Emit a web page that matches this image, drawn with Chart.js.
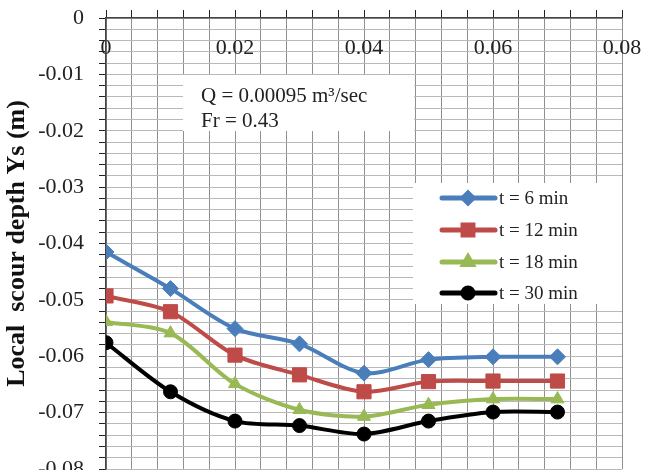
<!DOCTYPE html>
<html>
<head>
<meta charset="utf-8">
<script src="https://cdn.jsdelivr.net/npm/chart.js@4.4.1/dist/chart.umd.min.js"></script>
<style>
html,body{margin:0;padding:0;background:#fff;overflow:hidden}
#wrap{width:646px;height:482px;position:relative}
</style>
</head>
<body>
<div id="wrap"><canvas id="scourChart" width="646" height="482"></canvas></div>
<script>
/* Local scour depth chart */
const xVals=[0,0.01,0.02,0.03,0.04,0.05,0.06,0.07];
const t6 =[-0.0415,-0.0480,-0.0551,-0.0578,-0.0630,-0.0606,-0.0601,-0.0601];
const t12=[-0.0493,-0.0521,-0.0598,-0.0633,-0.0663,-0.0645,-0.0644,-0.0644];
const t18=[-0.0539,-0.0559,-0.0649,-0.0695,-0.0707,-0.0686,-0.0676,-0.0676];
const t30=[-0.0576,-0.0663,-0.0715,-0.0723,-0.0738,-0.0715,-0.0699,-0.0699];
const seriesNames=['t = 6 min','t = 12 min','t = 18 min','t = 30 min'];
const xTickLabels=[0,0.02,0.04,0.06,0.08];
const yTickLabels=[0,-0.01,-0.02,-0.03,-0.04,-0.05,-0.06,-0.07,-0.08];
const noteLines=['Q = 0.00095 m³/sec','Fr = 0.43'];

const serif='"Liberation Serif","Times New Roman",serif';
const styles=[
  {color:'#4A7EBB',point:'rectRot',r:8,lr:5},
  {color:'#BE4B48',point:'rect',r:10,lr:7},
  {color:'#98B954',point:'triangle',r:7.5,lr:5},
  {color:'#000000',point:'circle',r:7,lr:5}
];
const pts=arr=>arr.map((v,i)=>({x:xVals[i],y:v}));
const datasets=[t6,t12,t18,t30].map((arr,i)=>({
  label:seriesNames[i],data:pts(arr),
  borderColor:styles[i].color,backgroundColor:styles[i].color,
  borderWidth:4,tension:0.3,
  pointStyle:styles[i].point,pointRadius:styles[i].r,pointHoverRadius:styles[i].r,pointBorderWidth:1
}));

const near=(v,list)=>list.some(t=>Math.abs(t-v)<1e-7);
const fmt=v=>Math.abs(v)<1e-9?'0':(Math.round(v*100)/100).toFixed(2);

// white note box + legend box, drawn under the lines
const boxesPlugin={
  id:'boxes',
  beforeDatasetsDraw(chart){
    const ctx=chart.ctx;
    ctx.save();
    ctx.fillStyle='#fff';
    ctx.fillRect(183,75,231,56);
    ctx.fillStyle='#222';
    ctx.font='21px '+serif;
    ctx.textBaseline='alphabetic';
    ctx.fillText(noteLines[0],201,102);
    ctx.fillText(noteLines[1],201,127);
    // legend
    ctx.fillStyle='#fff';
    ctx.fillRect(413,183,209,121);
    const rows=[198,230,262,293];
    chart.data.datasets.forEach((ds,i)=>{
      const y=rows[i];
      ctx.strokeStyle=ds.borderColor;ctx.lineWidth=5;ctx.lineCap='round';
      ctx.beginPath();ctx.moveTo(442,y);ctx.lineTo(495,y);ctx.stroke();
      ctx.fillStyle=ds.borderColor;
      Chart.helpers.drawPoint(ctx,{pointStyle:styles[i].point,radius:styles[i].lr,rotation:0,borderWidth:1},468,y);
      ctx.fillStyle='#222';ctx.font='19px '+serif;ctx.textBaseline='middle';
      ctx.fillText(ds.label,499,y+1);
    });
    ctx.restore();
  }
};

new Chart(document.getElementById('scourChart'),{
  type:'line',
  data:{datasets},
  plugins:[boxesPlugin],
  options:{
    responsive:false,animation:false,
    layout:{padding:{left:0,top:0,right:24,bottom:13}},
    plugins:{legend:{display:false},tooltip:{enabled:false}},
    scales:{
      x:{
        type:'linear',position:'top',min:0,max:0.08,
        afterFit:s=>{s.height=18;s.paddingLeft=0;s.paddingRight=0;s.paddingTop=0;s.paddingBottom=0;},
        border:{display:true,color:'#444',width:1.5},
        grid:{color:'#8f8f8f',lineWidth:1,drawTicks:true,tickLength:8,tickColor:'#222'},
        ticks:{stepSize:0.004,autoSkip:false,maxRotation:0,mirror:true,padding:17,color:'#222',font:{family:serif,size:22},
          callback:v=>near(v,xTickLabels)?fmt(v):''}
      },
      y:{
        type:'linear',min:-0.08,max:0,
        afterFit:s=>{s.width=106;s.paddingTop=0;s.paddingBottom=0;s.paddingLeft=0;s.paddingRight=0;},
        border:{display:true,color:'#444',width:1.5},
        grid:{color:'#b8b8b8',lineWidth:1,drawTicks:true,tickLength:7,tickColor:'#222'},
        ticks:{stepSize:0.002,autoSkip:false,padding:15,color:'#222',font:{family:serif,size:22},
          callback:v=>near(v,yTickLabels)?fmt(v):''},
        title:{display:true,text:'Local  scour depth Ys (m)',color:'#111',padding:{top:2,bottom:0},
          font:{family:serif,size:26,weight:'bold'}}
      }
    }
  }
});
</script>
</body>
</html>
